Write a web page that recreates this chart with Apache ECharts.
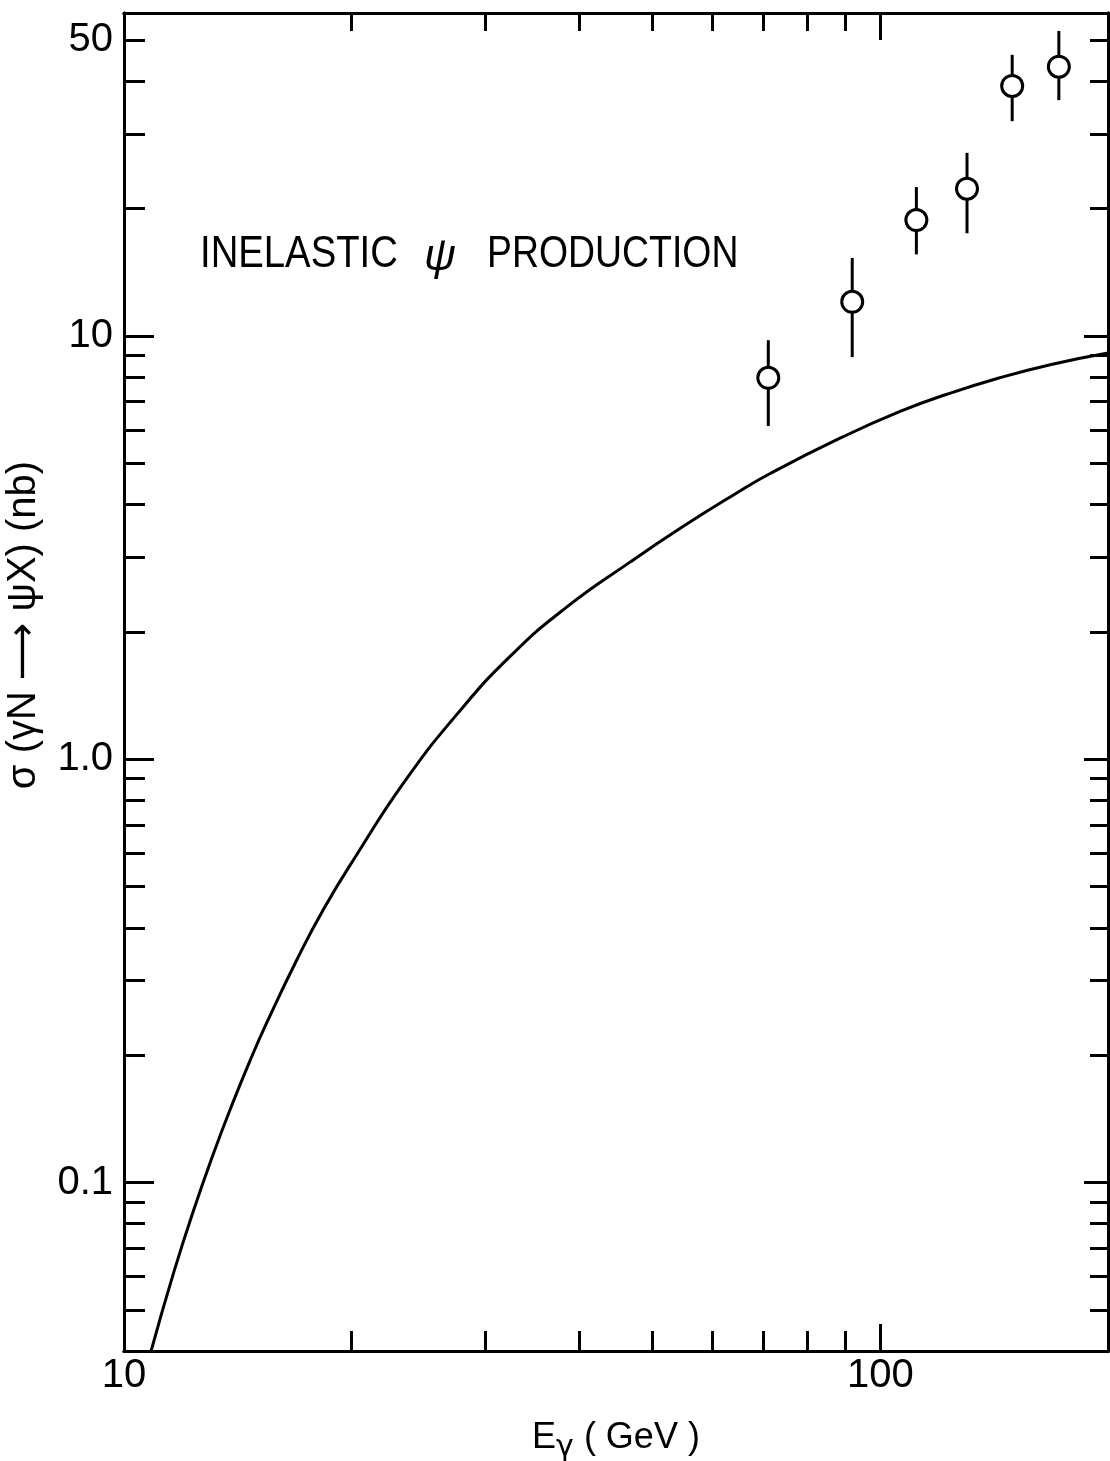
<!DOCTYPE html>
<html>
<head>
<meta charset="utf-8">
<script src="https://cdn.jsdelivr.net/npm/echarts@6/dist/echarts.min.js"></script>
<style>
  html, body { margin: 0; padding: 0; background: #fff; }
  #main { width: 1110px; height: 1461px; }
</style>
</head>
<body>
<div id="main"></div>
<script>
// theory curve, inelastic psi photoproduction
var curveE = [10.86, 11.64, 12.38, 13.15, 13.84, 14.71, 15.45, 16.94, 18.39, 20.32, 23.44, 27.57,
              32.47, 38.37, 46.67, 54.83, 64.27, 71.61, 88.72, 106.2, 122.2, 143.5, 168.3, 200];
var curveSigma = [0.040, 0.0615, 0.0867, 0.118, 0.150, 0.196, 0.239, 0.337, 0.445, 0.596, 0.881, 1.279,
                  1.758, 2.28, 2.924, 3.548, 4.236, 4.742, 5.754, 6.637, 7.278, 7.962, 8.57, 9.12];

// measured points with error bars
var pointE = [71.1, 91.8, 111.6, 130.2, 149.4, 172.2];
var pointSigma = [7.97, 12.05, 18.8, 22.3, 39.0, 43.3];
var pointLow = [6.13, 8.92, 15.6, 17.5, 32.2, 36.1];
var pointHigh = [9.78, 15.3, 22.5, 27.1, 46.2, 52.6];

// axes
var xRange = [10, 200];
var yRange = [0.04, 58];
var xMajorTicks = [100];
var xMinorTicks = [20, 30, 40, 50, 60, 70, 80, 90];
var xLabelValues = [10, 100];
var xLabels = ['10', '100'];
var yMajorTicks = [0.1, 1, 10];
var yMinorTicks = [0.05, 0.06, 0.07, 0.08, 0.09, 0.2, 0.3, 0.4, 0.5, 0.6, 0.7, 0.8, 0.9,
                   2, 3, 4, 5, 6, 7, 8, 9, 20, 30, 40, 50];
var yLabelValues = [0.1, 1, 10, 50];
var yLabels = ['0.1', '1.0', '10', '50'];

var FONT = 'Liberation Sans';

function lg(v) { return Math.log10(v); }

function labelFor(vals, texts) {
    return function (v) {
        for (var i = 0; i < vals.length; i++) {
            if (Math.abs(lg(vals[i]) - v) < 1e-6) return texts[i];
        }
        return '';
    };
}

// log-space helper axis, only used to draw ticks / labels
function tickAxis(pos, range, ticks, len, labelVals, labelTexts, margin) {
    var ax = {
        type: 'value',
        gridIndex: 0,
        position: pos,
        min: lg(range[0]),
        max: lg(range[1]),
        axisLine: { show: true, onZero: false, lineStyle: { color: '#000', width: 3 } },
        axisTick: {
            show: true, inside: true, length: len,
            customValues: ticks.map(lg),
            lineStyle: { color: '#000', width: 3 }
        },
        axisLabel: { show: false },
        splitLine: { show: false }
    };
    if (labelVals) {
        ax.axisLabel = {
            show: true,
            customValues: labelVals.map(lg),
            formatter: labelFor(labelVals, labelTexts),
            margin: margin,
            color: '#000',
            fontFamily: FONT,
            fontSize: 40
        };
    }
    return ax;
}

var chart = echarts.init(document.getElementById('main'));

var xBottomMinor = tickAxis('bottom', xRange, xMinorTicks, 20);
xBottomMinor.name = 'E{s|γ} ( GeV )';
xBottomMinor.nameLocation = 'middle';
xBottomMinor.nameGap = 62;
xBottomMinor.nameTextStyle = {
    color: '#000', fontFamily: FONT, fontSize: 36,
    rich: { s: { color: '#000', fontFamily: 'DejaVu Sans', fontSize: 30, padding: [20, 0, 0, 0] } }
};

var yLeftMinor = tickAxis('left', yRange, yMinorTicks, 21);
yLeftMinor.name = 'σ (γN ⟶ ψX) (nb)';
yLeftMinor.nameLocation = 'middle';
yLeftMinor.nameRotate = 90;
yLeftMinor.nameGap = 80;
yLeftMinor.nameTextStyle = {
    color: '#000', fontFamily: FONT + ', DejaVu Sans', fontSize: 40,
    padding: [0, 0, 0, 114]
};

chart.setOption({
    animation: false,
    backgroundColor: '#fff',
    grid: { left: 124, right: 2, top: 13, bottom: 110, containLabel: false, outerBoundsMode: 'none' },
    xAxis: [
        { type: 'log', min: xRange[0], max: xRange[1], show: false, gridIndex: 0 },
        xBottomMinor,
        tickAxis('bottom', xRange, xMajorTicks, 27, xLabelValues, xLabels, 5),
        tickAxis('top', xRange, xMinorTicks, 18),
        tickAxis('top', xRange, xMajorTicks, 27)
    ],
    yAxis: [
        { type: 'log', min: yRange[0], max: yRange[1], show: false, gridIndex: 0 },
        yLeftMinor,
        tickAxis('left', yRange, yMajorTicks, 30, yLabelValues, yLabels, 11),
        tickAxis('right', yRange, yMinorTicks, 18),
        tickAxis('right', yRange, yMajorTicks, 24)
    ],
    graphic: [
        { type: 'text', x: 200, y: 255, scaleX: 0.87,
          style: { text: 'INELASTIC', fill: '#000', font: '44px "Liberation Sans"', verticalAlign: 'middle' } },
        { type: 'text', x: 424, y: 258,
          style: { text: 'ψ', fill: '#000', font: 'italic 44px "Liberation Sans"', verticalAlign: 'middle' } },
        { type: 'text', x: 487, y: 255, scaleX: 0.85,
          style: { text: 'PRODUCTION', fill: '#000', font: '44px "Liberation Sans"', verticalAlign: 'middle' } }
    ],
    series: [
        {
            type: 'line',
            xAxisIndex: 0, yAxisIndex: 0,
            data: curveE.map(function (e, i) { return [e, curveSigma[i]]; }),
            smooth: 0.5,
            showSymbol: false,
            clip: true,
            lineStyle: { color: '#000', width: 3 }
        },
        {
            type: 'custom',
            xAxisIndex: 0, yAxisIndex: 0,
            data: pointE.map(function (e, i) { return [e, pointLow[i], pointHigh[i]]; }),
            encode: { x: 0, y: [1, 2] },
            renderItem: function (params, api) {
                var lo = api.coord([api.value(0), api.value(1)]);
                var hi = api.coord([api.value(0), api.value(2)]);
                return {
                    type: 'line',
                    shape: { x1: lo[0], y1: lo[1], x2: hi[0], y2: hi[1] },
                    style: { stroke: '#000', lineWidth: 3 }
                };
            },
            z: 3
        },
        {
            type: 'scatter',
            xAxisIndex: 0, yAxisIndex: 0,
            data: pointE.map(function (e, i) { return [e, pointSigma[i]]; }),
            symbol: 'circle',
            symbolSize: 21,
            itemStyle: { color: '#fff', borderColor: '#000', borderWidth: 3, opacity: 1 },
            z: 4
        }
    ]
});
</script>
</body>
</html>
